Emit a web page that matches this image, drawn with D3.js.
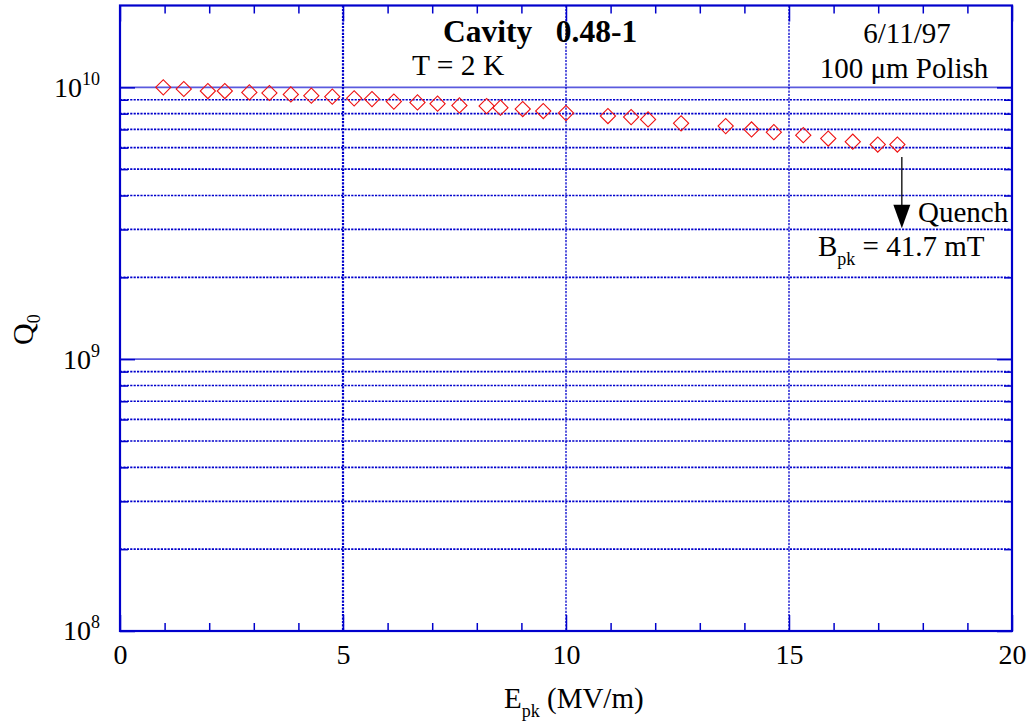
<!DOCTYPE html>
<meta charset="utf-8">
<script src="https://d3js.org/d3.v7.min.js"></script>
<style>
  body { margin: 0; background: #fff; }
  text { font-family: "Liberation Serif", "Times New Roman", serif; fill: #000; }
</style>
<div id="chart"></div>
<script>
// measured data: peak field (MV/m) and Q0
var epk = [0.97, 1.43, 1.97, 2.35, 2.90, 3.35, 3.83, 4.29, 4.76, 5.25, 5.65, 6.14,
           6.67, 7.12, 7.61, 8.22, 8.53, 9.03, 9.49, 10.00, 10.94, 11.46, 11.84, 12.58,
           13.58, 14.16, 14.66, 15.32, 15.88, 16.43, 16.99, 17.43];
var q0 = [1.00e10, 9.86e9, 9.69e9, 9.69e9, 9.58e9, 9.53e9, 9.42e9, 9.32e9, 9.24e9, 9.11e9, 9.05e9, 8.86e9,
          8.80e9, 8.71e9, 8.58e9, 8.53e9, 8.42e9, 8.32e9, 8.18e9, 8.04e9, 7.84e9, 7.77e9, 7.62e9, 7.37e9,
          7.20e9, 7.00e9, 6.84e9, 6.67e9, 6.48e9, 6.31e9, 6.16e9, 6.16e9];

var xMajor = [0, 5, 10, 15, 20];
var xMinor = [1, 2, 3, 4, 6, 7, 8, 9, 11, 12, 13, 14, 16, 17, 18, 19];
var yMajor = [1e8, 1e9, 1e10];
var yMinor = [2e8, 3e8, 4e8, 5e8, 6e8, 7e8, 8e8, 9e8, 2e9, 3e9, 4e9, 5e9, 6e9, 7e9, 8e9, 9e9];

var W = 1028, H = 727;
var pL = 120, pR = 1012, pT = 5.5, pB = 631;
var blue = "#0000cc";

var svg = d3.select("#chart").append("svg")
  .attr("width", W).attr("height", H);

var x = d3.scaleLinear().domain([0, 20]).range([pL, pR]);
var y = d3.scaleLog().domain([1e8, 2e10]).range([pB, pT]);

// horizontal grid lines
svg.selectAll(".hminor").data(yMinor).enter().append("line")
  .attr("x1", pL).attr("x2", pR)
  .attr("y1", function(d){ return y(d) }).attr("y2", function(d){ return y(d) })
  .attr("stroke", blue).attr("stroke-width", 1.7).attr("stroke-dasharray", "2.2,1.2");

svg.selectAll(".hmajor").data([1e9, 1e10]).enter().append("line")
  .attr("x1", pL).attr("x2", pR)
  .attr("y1", function(d){ return y(d) }).attr("y2", function(d){ return y(d) })
  .attr("stroke", "#5a5ade").attr("stroke-width", 1.6);

// vertical grid lines
svg.selectAll(".vgrid").data([5, 10, 15]).enter().append("line")
  .attr("x1", function(d){ return x(d) }).attr("x2", function(d){ return x(d) })
  .attr("y1", pT).attr("y2", pB)
  .attr("stroke", blue)
  .attr("stroke-width", function(d){ return d == 5 ? 2.2 : 1.3 })
  .attr("stroke-dasharray", "2.2,1.2");

// axes
function styleAxis(g) {
  g.select(".domain").remove();
  g.selectAll(".tick line").attr("stroke", blue).attr("stroke-width", 1.5);
  g.selectAll("text").attr("font-size", "28px").attr("font-family", "Liberation Serif").attr("fill", "#000");
}

svg.append("g").attr("transform", "translate(0," + pB + ")")
  .call(d3.axisBottom(x).tickValues(xMajor).tickSizeInner(-16).tickSizeOuter(0).tickPadding(13)
    .tickFormat(d3.format("d")))
  .call(styleAxis);
svg.append("g").attr("transform", "translate(0," + pB + ")")
  .call(d3.axisBottom(x).tickValues(xMinor).tickSizeInner(-8).tickSizeOuter(0).tickFormat(""))
  .call(styleAxis);
svg.append("g").attr("transform", "translate(0," + pT + ")")
  .call(d3.axisTop(x).tickValues(xMajor).tickSizeInner(-16).tickSizeOuter(0).tickFormat(""))
  .call(styleAxis);
svg.append("g").attr("transform", "translate(0," + pT + ")")
  .call(d3.axisTop(x).tickValues(xMinor).tickSizeInner(-8).tickSizeOuter(0).tickFormat(""))
  .call(styleAxis);

var yl = svg.append("g").attr("transform", "translate(" + pL + ",0)")
  .call(d3.axisLeft(y).tickValues(yMajor).tickSizeInner(-15).tickSizeOuter(0).tickPadding(20)
    .tickFormat(function(){ return "" }))
  .call(styleAxis);
yl.selectAll(".tick text").each(function(d) {
  var t = d3.select(this);
  t.append("tspan").text("10");
  t.append("tspan").attr("font-size", "18px").attr("dy", "-12").text(Math.round(Math.log10(d)));
});
svg.append("g").attr("transform", "translate(" + pL + ",0)")
  .call(d3.axisLeft(y).tickValues(yMinor).tickSizeInner(-8).tickSizeOuter(0).tickFormat(""))
  .call(styleAxis);
svg.append("g").attr("transform", "translate(" + pR + ",0)")
  .call(d3.axisRight(y).tickValues(yMajor).tickSizeInner(-15).tickSizeOuter(0).tickFormat(""))
  .call(styleAxis);
svg.append("g").attr("transform", "translate(" + pR + ",0)")
  .call(d3.axisRight(y).tickValues(yMinor).tickSizeInner(-8).tickSizeOuter(0).tickFormat(""))
  .call(styleAxis);

// frame
svg.append("rect")
  .attr("x", pL).attr("y", pT)
  .attr("width", pR - pL).attr("height", pB - pT)
  .attr("fill", "none").attr("stroke", blue).attr("stroke-width", 2.2);

// data points: open red diamonds
var diamond = d3.symbol().type(d3.symbolSquare).size(115);
svg.selectAll(".pt").data(epk).enter().append("path")
  .attr("d", diamond)
  .attr("transform", function(d, i){ return "translate(" + x(d) + "," + y(q0[i]) + ") rotate(45)" })
  .attr("fill", "none").attr("stroke", "#ee1111").attr("stroke-width", 1.1);

// axis titles
var xt = svg.append("text").attr("x", 504).attr("y", 708).attr("font-size", "29px");
xt.append("tspan").text("E");
xt.append("tspan").attr("font-size", "18px").attr("dy", 9).text("pk");
xt.append("tspan").attr("dy", -9).text(" (MV/m)");

var yt = svg.append("text").attr("transform", "translate(33,345) rotate(-90)").attr("font-size", "30px");
yt.append("tspan").text("Q");
yt.append("tspan").attr("font-size", "18px").attr("dy", 7).text("0");

// annotations
svg.append("text").attr("x", 443).attr("y", 42).attr("font-size", "31.5px").attr("font-weight", "bold")
  .attr("xml:space", "preserve").text("Cavity   0.48-1");
svg.append("text").attr("x", 412).attr("y", 75).attr("font-size", "29.5px").text("T = 2 K");
svg.append("text").attr("x", 907).attr("y", 43).attr("font-size", "29px").attr("text-anchor", "middle").text("6/11/97");
svg.append("text").attr("x", 904).attr("y", 78).attr("font-size", "29px").attr("text-anchor", "middle").text("100 \u03bcm Polish");

// quench arrow
var ax = x(17.53);
svg.append("line")
  .attr("x1", ax).attr("x2", ax).attr("y1", y(5.54e9)).attr("y2", y(3.6e9))
  .attr("stroke", "#000").attr("stroke-width", 1.3);
svg.append("path")
  .attr("d", "M" + (ax - 8.5) + "," + y(3.7e9) + "L" + (ax + 8.5) + "," + y(3.7e9) + "L" + ax + "," + y(3.03e9) + "Z")
  .attr("fill", "#000");
svg.append("text").attr("x", 918).attr("y", 222).attr("font-size", "29px").text("Quench");
var bt = svg.append("text").attr("x", 818).attr("y", 256).attr("font-size", "29px");
bt.append("tspan").text("B");
bt.append("tspan").attr("font-size", "18px").attr("dy", 9).text("pk");
bt.append("tspan").attr("dy", -9).text(" = 41.7 mT");
</script>
